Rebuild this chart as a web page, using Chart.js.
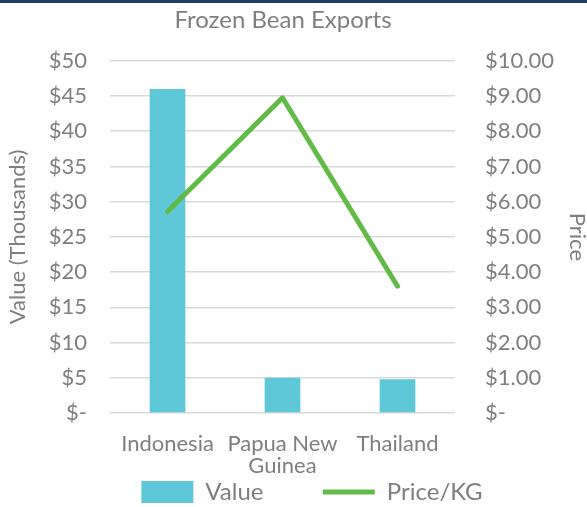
<!DOCTYPE html>
<html>
<head>
<meta charset="utf-8">
<script src="https://cdn.jsdelivr.net/npm/chart.js@4.4.0/dist/chart.umd.min.js"></script>
<style>
  html, body { margin: 0; padding: 0; background: #fff; }
  #wrap { position: relative; width: 587px; height: 507px; }
  #topline { position: absolute; left: 0; top: 0; width: 587px; height: 3px; background: #1b3f6e; }
</style>
</head>
<body>
<div id="wrap">
  <canvas id="chart" width="587" height="507"></canvas>
  <div id="topline"></div>
</div>
<script>
const countries = ['Indonesia', ['Papua New', 'Guinea'], 'Thailand'];
const exportValue = [46, 5.0, 4.8];      // thousands of dollars
const pricePerKg = [5.72, 8.95, 3.6];     // dollars per kg

const grey = '#7f7f7f';
const fontFamily = 'Lato, "Open Sans", sans-serif';

function money(v, digits) {
    if (v === 0) return '$-';
    return '$' + v.toFixed(digits);
}

// the original title sits a bit left of centre, the legend a bit right
const nudge = {
    id: 'nudge',
    afterLayout(chart) {
        chart.legend.left += 17;
        chart.legend.right += 17;
        chart.titleBlock.left -= 12;
        chart.titleBlock.right -= 12;
    },
};

new Chart(document.getElementById('chart'), {
    data: {
        labels: countries,
        datasets: [
            {
                type: 'bar',
                label: 'Value',
                data: exportValue,
                backgroundColor: '#5ec8d8',
                yAxisID: 'y',
                categoryPercentage: 1,
                barPercentage: 0.31,
                order: 1,
            },
            {
                type: 'line',
                label: 'Price/KG',
                data: pricePerKg,
                borderColor: '#62bb46',
                backgroundColor: '#62bb46',
                borderWidth: 5,
                borderCapStyle: 'round',
                borderJoinStyle: 'round',
                pointRadius: 0,
                tension: 0,
                yAxisID: 'y1',
                order: 0,
            },
        ],
    },
    plugins: [nudge],
    options: {
        responsive: false,
        animation: false,
        layout: { padding: { left: 0, right: -3, top: 6, bottom: -7 } },
        plugins: {
            title: {
                display: true,
                text: 'Frozen Bean Exports',
                color: grey,
                font: { family: fontFamily, size: 24, weight: 'normal', lineHeight: 1.2 },
                padding: { top: 0, bottom: 26 },
            },
            legend: {
                position: 'bottom',
                labels: {
                    color: grey,
                    font: { family: fontFamily, size: 24, lineHeight: 1.0 },
                    usePointStyle: true,
                    pointStyleWidth: 52,
                    boxHeight: 22,
                    padding: 4,
                    generateLabels: (chart) => chart.data.datasets.map((ds, i) => ({
                        text: i ? ds.label : ds.label + '         ',
                        fillStyle: ds.backgroundColor,
                        strokeStyle: ds.borderColor,
                        lineWidth: i ? 5 : 0,
                        pointStyle: i ? 'line' : 'rect',
                        fontColor: grey,
                        datasetIndex: i,
                    })),
                },
            },
            tooltip: { enabled: false },
        },
        scales: {
            x: {
                grid: { display: false },
                border: { display: false },
                ticks: {
                    color: grey,
                    font: { family: fontFamily, size: 22, lineHeight: 1.0 },
                    maxRotation: 0,
                    autoSkip: false,
                    padding: 12,
                },
                afterFit: (scale) => {
                    scale.height -= 13;
                    scale.paddingLeft = 0;
                    scale.paddingRight = 0;
                },
            },
            y: {
                position: 'left',
                min: 0,
                max: 50,
                grid: { color: '#d9d9d9', lineWidth: 1.5, drawTicks: false },
                border: { display: false },
                ticks: {
                    stepSize: 5,
                    color: grey,
                    font: { family: fontFamily, size: 22 },
                    padding: 23,
                    callback: (v) => money(v, 0),
                },
                title: {
                    display: true,
                    text: 'Value (Thousands)',
                    color: grey,
                    font: { family: fontFamily, size: 22, lineHeight: 1.2 },
                    padding: { top: 5, bottom: 0 },
                },
                afterFit: (scale) => { scale.width = 110; },
            },
            y1: {
                position: 'right',
                min: 0,
                max: 10,
                grid: { display: false, drawTicks: false },
                border: { display: false },
                ticks: {
                    stepSize: 1,
                    color: grey,
                    font: { family: fontFamily, size: 22 },
                    padding: 30,
                    callback: (v) => money(v, 2),
                },
                title: {
                    display: true,
                    text: 'Price',
                    color: grey,
                    font: { family: fontFamily, size: 22, lineHeight: 1.2 },
                    padding: { top: 0, bottom: 0 },
                },
                afterFit: (scale) => { scale.width = 135; },
            },
        },
    },
});
</script>
</body>
</html>
